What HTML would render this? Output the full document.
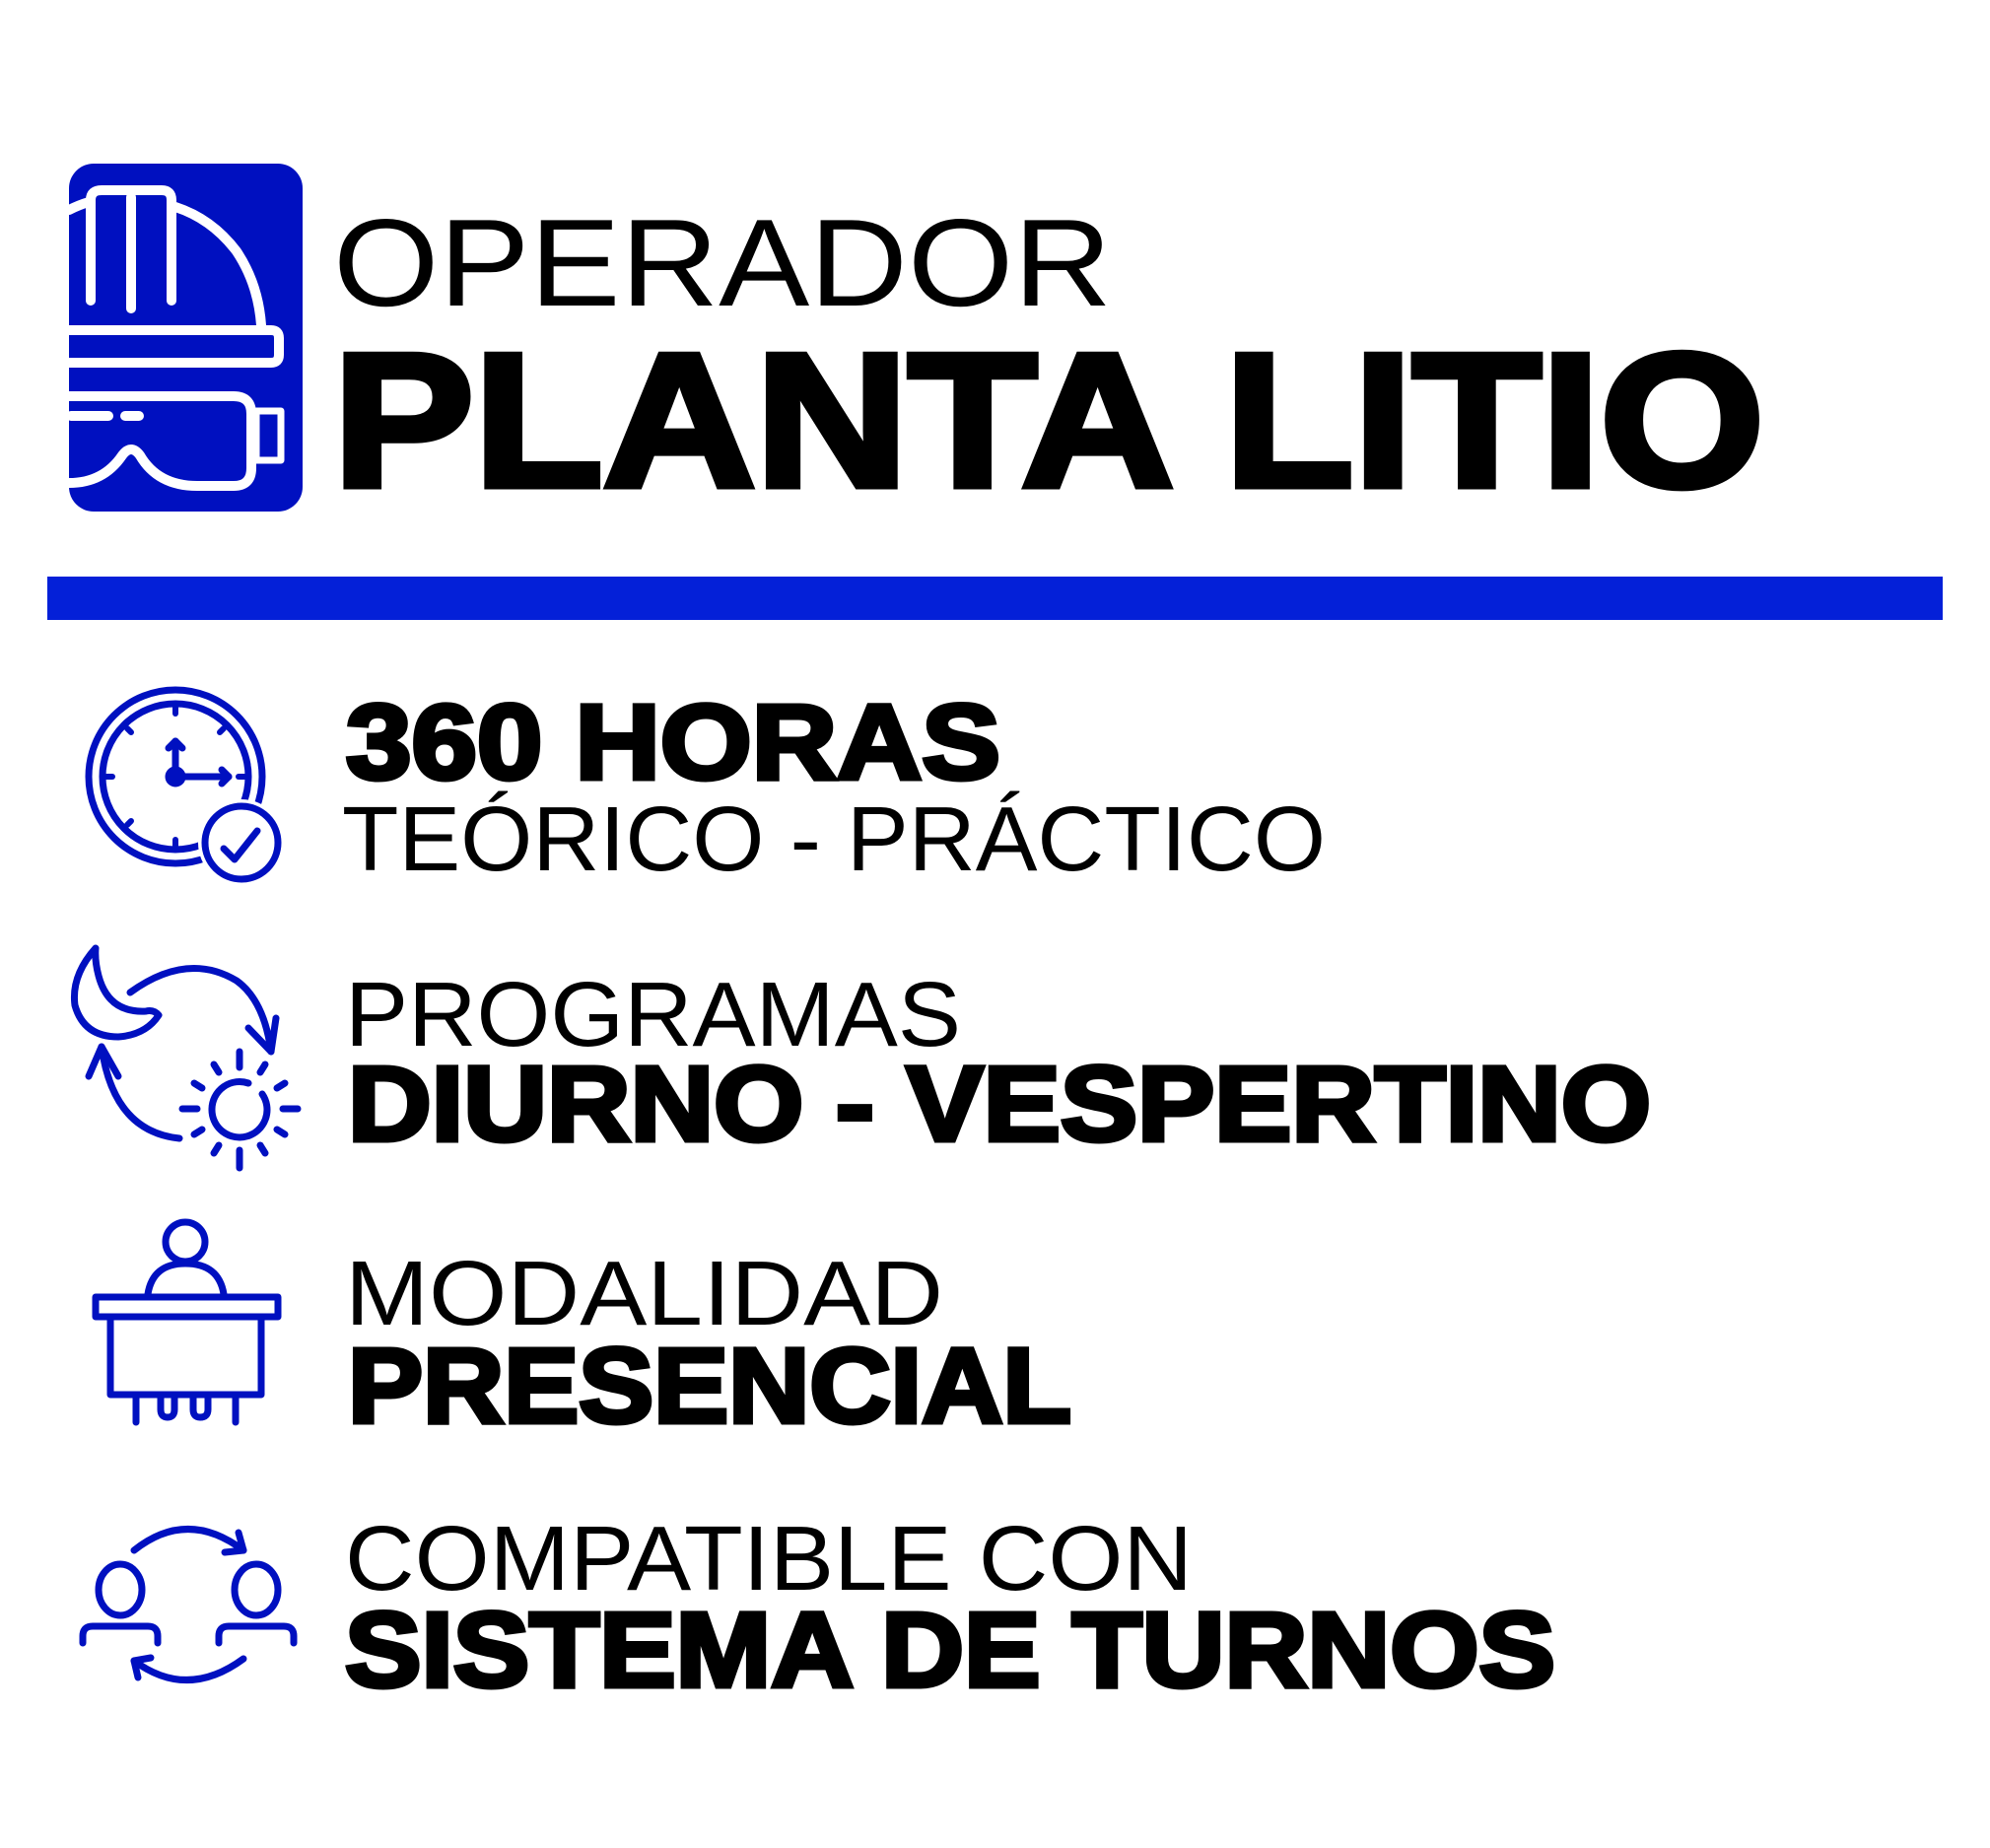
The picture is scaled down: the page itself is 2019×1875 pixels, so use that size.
<!DOCTYPE html>
<html><head><meta charset="utf-8"><style>
html,body{margin:0;padding:0;background:#fff}
svg{display:block}
text{font-family:"Liberation Sans",sans-serif;fill:#000}
.b{font-weight:bold;stroke:#000}
</style></head><body>
<svg width="2019" height="1875" viewBox="0 0 2019 1875" xmlns="http://www.w3.org/2000/svg">
<rect x="70" y="166" width="237" height="353" rx="25" fill="#0010c0"/>
<g fill="none" stroke="#fff" stroke-width="10" stroke-linecap="round" stroke-linejoin="round">
<path d="M70,213 Q80,208 90,205"/>
<path d="M92,305 V203 Q92,193 103,193 H164 Q174,193 174,203 V305"/>
<line x1="133" y1="200" x2="133" y2="313"/>
<path d="M178,210 Q215,222 240,255 Q262,288 265,330"/>
<path d="M70,335 H275 Q283,335 283,343 V360 Q283,368 275,368 H70"/>
<path d="M70,402 H237 Q255,402 255,420 V475 Q255,493 237,493 H200 Q160,493 142,462 Q133,450 124,462 Q105,490 70,490"/>
<rect x="260" y="417" width="25" height="50" stroke-width="7"/>
<line x1="72" y1="422" x2="110" y2="422"/>
<line x1="127" y1="422" x2="141" y2="422"/>
</g>
<rect x="48" y="585" width="1923" height="44" fill="#0420d8"/>
<text x="338" y="310" font-size="126" textLength="790" lengthAdjust="spacingAndGlyphs">OPERADOR</text>
<text class="b" x="338" y="493" font-size="193" stroke-width="7" textLength="1452" lengthAdjust="spacingAndGlyphs">PLANTA LITIO</text>
<text class="b" x="351" y="790" font-size="108" stroke-width="5" textLength="664" lengthAdjust="spacingAndGlyphs">360 HORAS</text>
<text x="347" y="883" font-size="93" textLength="998" lengthAdjust="spacingAndGlyphs">TEÓRICO - PRÁCTICO</text>
<text x="350" y="1061" font-size="93" textLength="625" lengthAdjust="spacingAndGlyphs">PROGRAMAS</text>
<text class="b" x="353" y="1157" font-size="108" stroke-width="5" textLength="1322" lengthAdjust="spacingAndGlyphs">DIURNO - VESPERTINO</text>
<text x="350" y="1344" font-size="93" textLength="607" lengthAdjust="spacingAndGlyphs">MODALIDAD</text>
<text class="b" x="353" y="1443" font-size="108" stroke-width="5" textLength="734" lengthAdjust="spacingAndGlyphs">PRESENCIAL</text>
<text x="350" y="1613" font-size="93" textLength="860" lengthAdjust="spacingAndGlyphs">COMPATIBLE CON</text>
<text class="b" x="350" y="1711" font-size="108" stroke-width="5" textLength="1228" lengthAdjust="spacingAndGlyphs">SISTEMA DE TURNOS</text>
<g fill="none" stroke="#0010c0" stroke-width="7" stroke-linecap="round" stroke-linejoin="round">
<circle cx="178" cy="788" r="88"/>
<circle cx="178" cy="788" r="74"/>
<circle cx="245" cy="855" r="44" fill="#fff" stroke="none"/>
<circle cx="245" cy="855" r="37"/>
<path d="M227,861 L238,872 L261,843"/>
<g stroke-width="6">
<line x1="178" y1="718" x2="178" y2="724"/><line x1="178" y1="852" x2="178" y2="858"/>
<line x1="108" y1="788" x2="114" y2="788"/><line x1="242" y1="788" x2="248" y2="788"/>
<line x1="129" y1="739" x2="133" y2="743"/><line x1="227" y1="739" x2="223" y2="743"/>
<line x1="129" y1="837" x2="133" y2="833"/>
</g>
<line x1="178" y1="788" x2="178" y2="752"/><path d="M171,759 L178,752 L185,759"/>
<line x1="178" y1="788" x2="232" y2="788"/><path d="M225,781 L232,788 L225,795"/>
<circle cx="178" cy="788" r="7" fill="#0010c0"/>
<path d="M97,962 Q72,990 76,1020 Q85,1052 120,1052 Q148,1050 161,1030 Q156,1024 148,1026 Q110,1028 100,990 Q96,975 97,962 Z"/>
<path d="M132,1007 Q190,965 240,995 Q268,1015 275,1067"/>
<path d="M252,1043 L275,1067 L280,1033"/>
<path d="M182,1155 Q115,1148 103,1062"/>
<path d="M90,1092 L103,1062 L120,1092"/>
<path d="M252,1099 A28,28 0 0 0 215,1125 A28,28 0 1 0 266,1110"/>
<g stroke-width="7">
<line x1="243" y1="1067" x2="243" y2="1083"/><line x1="243" y1="1167" x2="243" y2="1185"/>
<line x1="185" y1="1125" x2="200" y2="1125"/><line x1="287" y1="1125" x2="302" y2="1125"/>
<line x1="217" y1="1080" x2="222" y2="1088"/><line x1="269" y1="1080" x2="264" y2="1088"/>
<line x1="197" y1="1099" x2="205" y2="1104"/><line x1="289" y1="1099" x2="281" y2="1104"/>
<line x1="197" y1="1151" x2="205" y2="1146"/><line x1="289" y1="1151" x2="281" y2="1146"/>
<line x1="217" y1="1170" x2="222" y2="1162"/><line x1="269" y1="1170" x2="264" y2="1162"/>
</g>
<circle cx="188" cy="1260" r="20"/>
<path d="M150,1313 Q155,1282 188,1282 Q222,1282 227,1313"/>
<rect x="97" y="1316" width="185" height="20"/>
<rect x="112" y="1336" width="153" height="79"/>
<line x1="138" y1="1415" x2="138" y2="1443"/><line x1="239" y1="1415" x2="239" y2="1443"/>
<path d="M163,1415 V1430 Q163,1438 170,1438 Q177,1438 177,1430 V1415"/>
<path d="M196,1415 V1430 Q196,1438 203,1438 Q211,1438 211,1430 V1415"/>
<path d="M136,1573 Q190,1530 247,1573"/><path d="M242,1555 L247,1573 L228,1575"/>
<path d="M247,1683 Q190,1725 136,1685"/><path d="M140,1702 L136,1685 L153,1682"/>
<ellipse cx="122" cy="1613" rx="22" ry="26"/>
<ellipse cx="260" cy="1613" rx="22" ry="26"/>
<path d="M84,1667 V1660 Q84,1650 94,1650 H150 Q160,1650 160,1660 V1667"/>
<path d="M222,1667 V1660 Q222,1650 232,1650 H288 Q298,1650 298,1660 V1667"/>
</g>
</svg>
</body></html>
